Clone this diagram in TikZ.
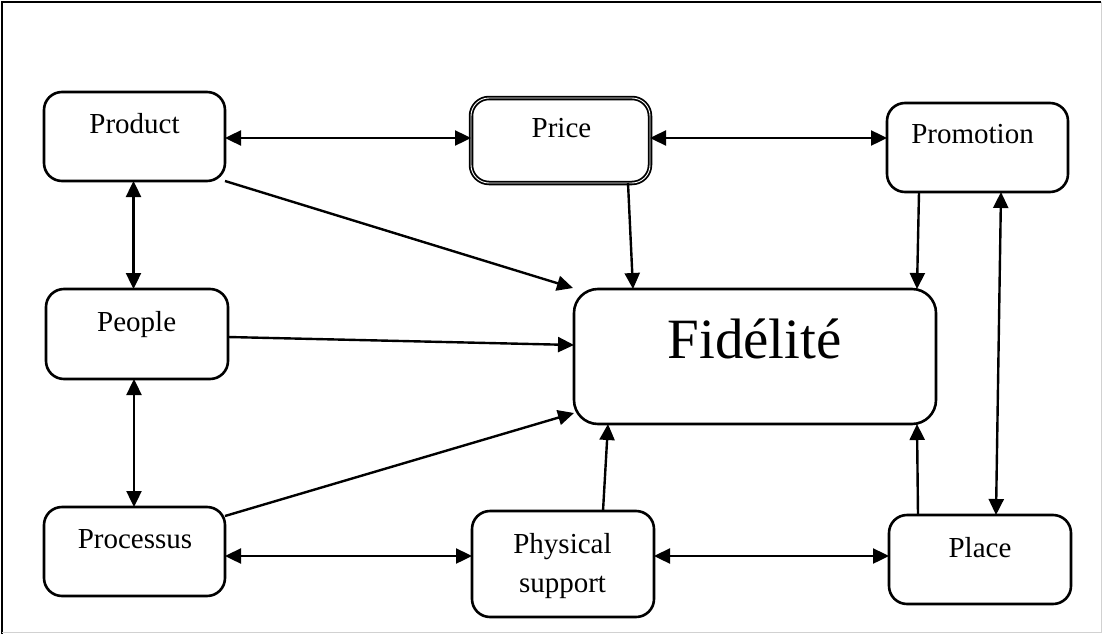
\documentclass[tikz,border=0pt]{standalone}
\usepackage{fontspec}
\setmainfont{Liberation Serif}
\usetikzlibrary{arrows.meta}
\tikzset{
  box/.style={draw, line width=2.6pt, rounded corners=18pt, inner sep=0pt, outer sep=0pt},
  lbl/.style={font=\fontsize{29}{39}\selectfont, inner sep=0pt, anchor=base},
  conn/.style={line width=2.4pt},
  tip/.tip={Triangle[length=16pt,width=15pt]},
  bi/.style={conn, tip-tip},
  uni/.style={conn, -tip}
}
\begin{document}
\begin{tikzpicture}[x=1pt,y=-1pt]
\useasboundingbox (0,0) rectangle (1105,634);
% frame
\draw[line width=1.8pt] (2,634) -- (2,2) -- (1101,2);
\draw[black!18, line width=1pt] (1101,2) -- (1101,632) -- (2,632);
% boxes
\node[box, minimum width=181pt, minimum height=89pt] (prod) at (134.5,136.5) {};
\node[box, double, double distance=0.9pt, line width=1.8pt, minimum width=179pt, minimum height=85pt] (price) at (560.5,140.5) {};
\node[box, minimum width=181pt, minimum height=89pt] (promo) at (977.5,147.5) {};
\node[box, minimum width=182pt, minimum height=90pt] (people) at (137,334) {};
\node[box, rounded corners=24pt, minimum width=362pt, minimum height=135pt] (fid) at (755,356.5) {};
\node[box, minimum width=181pt, minimum height=89pt] (proc) at (134.5,551.5) {};
\node[box, minimum width=182pt, minimum height=106pt] (phys) at (563,564) {};
\node[box, minimum width=182pt, minimum height=89pt] (place) at (980,559.5) {};
% labels
\node[lbl] (tprod) at (134.5,133) {Product};
\node[lbl] (tprice) at (561.5,137) {Price};
\node[lbl] (tpromo) at (972.5,143) {Promotion};
\node[lbl] (tpeople) at (136.7,331) {People};
\node[lbl, font=\fontsize{57}{60}\selectfont] (tfid) at (754.7,358) {Fidélité};
\node[lbl] (tproc) at (135,548) {Processus};
\node[lbl] (tphys1) at (562.5,553) {Physical};
\node[lbl] (tphys2) at (562.5,592) {support};
\node[lbl] (tplace) at (980,557) {Place};
% two-way connectors
\draw[bi] ([yshift=-1.5pt]prod.east) -- ([yshift=-1.5pt]price.west |- prod.east);
\draw[bi] ([yshift=-1.5pt]price.east |- prod.east) -- ([yshift=-1.5pt]promo.west |- prod.east);
\draw[bi] ([xshift=-1pt]prod.south) -- ([xshift=-1pt]people.north -| prod.south);
\draw[bi] ([xshift=-0.5pt]people.south -| proc.north) -- ([xshift=-0.5pt]proc.north);
\coordinate (pp) at ([yshift=-4.5pt]proc.east);
\draw[bi] (pp) -- (phys.west |- pp);
\draw[bi] (phys.east |- pp) -- (place.west |- pp);
\draw[bi] ([xshift=23.5pt]promo.south) -- ([xshift=16pt]place.north);
% one-way connectors to Fidélité
\draw[uni] (prod.south east) -- ([xshift=-1pt,yshift=1pt]fid.north west);
\draw[uni] ([xshift=67.5pt]price.south) -- ([xshift=-122pt]fid.north);
\draw[uni] ([xshift=-58.5pt]promo.south) -- ([xshift=162pt]fid.north);
\draw[uni] ([yshift=-3pt]people.east) -- ([yshift=11.5pt]fid.west);
\draw[uni] ([yshift=-9pt]proc.north east) -- ([yshift=11pt]fid.south west);
\draw[uni] ([xshift=40pt]phys.north) -- ([xshift=34pt]fid.south west);
\draw[uni] ([xshift=-62pt]place.north) -- ([xshift=162pt]fid.south);
\end{tikzpicture}
\end{document}
